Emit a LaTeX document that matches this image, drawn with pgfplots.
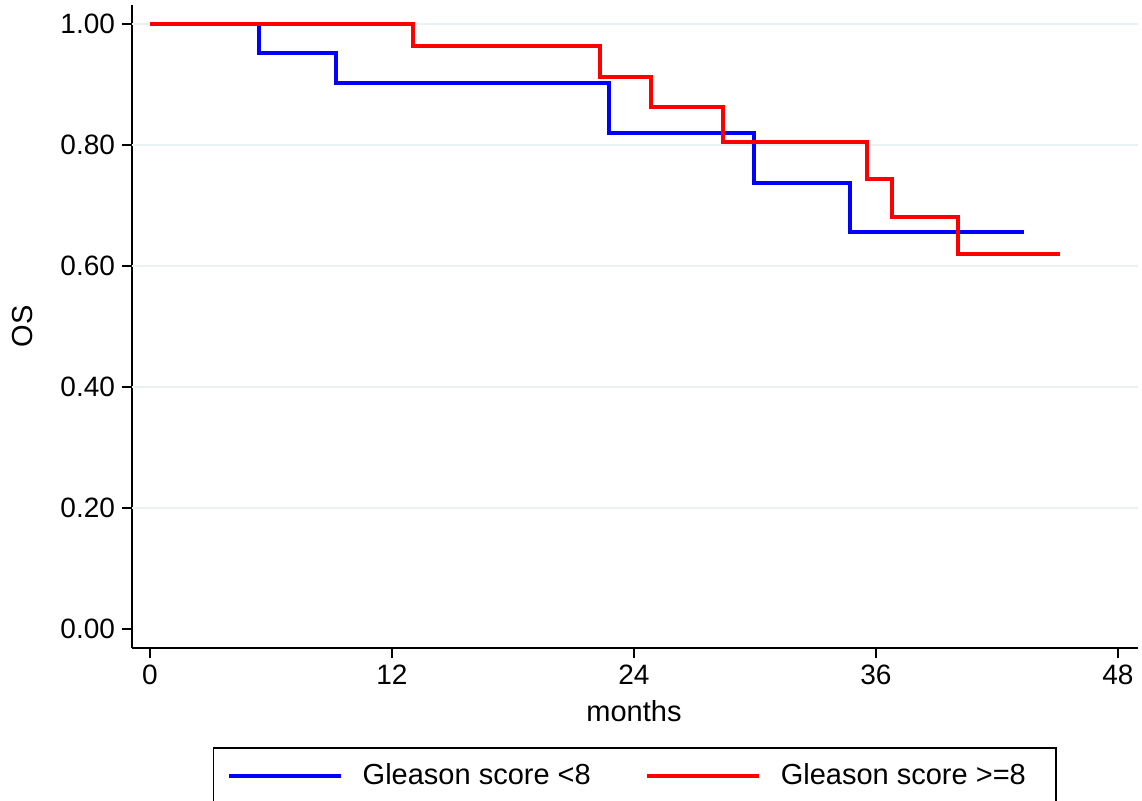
\documentclass[border=0pt]{standalone}
\usepackage{fontspec}
\setmainfont{Liberation Sans}
\usepackage{pgfplots}
\pgfplotsset{compat=1.18}
\definecolor{gridc}{RGB}{234,241,243}
\begin{document}
\begin{tikzpicture}
\useasboundingbox (0,0) rectangle (571pt,400pt);
\begin{axis}[
 at={(66pt,76pt)}, anchor=south west,
 scale only axis, width=503pt, height=321.5pt,
 xmin=-0.893, xmax=49, ymin=-0.0314, ymax=1.0314,
 axis x line*=bottom, axis y line*=left,
 axis line style={line width=1pt, -},
 xtick={0,12,24,36,48},
 ytick={0,0.2,0.4,0.6,0.8,1},
 extra y ticks={0.2,0.4,0.6,0.8,1},
 extra y tick labels={},
 extra y tick style={grid=major, major tick length=0pt, major grid style={gridc, line width=1pt}},
 tick align=outside, major tick length=5pt,
 tick style={line width=1pt, black},
 /pgf/number format/assume math mode=true,
 y tick label style={/pgf/number format/.cd, fixed, fixed zerofill, precision=2, /tikz/.cd},
 ticklabel style={font=\fontsize{14}{16}\selectfont},
 label style={font=\fontsize{14.5}{17}\selectfont},
 xlabel={months}, ylabel={OS},
 xlabel style={at={(axis description cs:0.499,-0.115)}, anchor=base},
 ylabel style={at={(axis description cs:-0.109,0.5)}, anchor=center},
 legend columns=2,
 legend style={at={(axis description cs:0.0805,-0.154)}, anchor=north west, draw=black, line width=0.75pt,
   font=\fontsize{14.5}{17}\selectfont, inner xsep=6.5pt, inner ysep=7pt, column sep=0pt,
   nodes={inner xsep=0pt, inner ysep=1pt, anchor=west}},
 legend image code/.code={\draw[#1, line width=2pt] (0pt,0pt) -- (56pt,0pt);},
 /tikz/every odd column/.append style={column sep=10pt},
 /tikz/every even column/.append style={column sep=27pt},
]
\addplot[blue, line width=2pt, const plot] coordinates {(0,1) (5.41,0.952) (9.23,0.902) (22.77,0.820) (29.96,0.737) (34.72,0.656) (43.35,0.656)};
\addlegendentry{Gleason score <8}
\addplot[red, line width=2pt, const plot] coordinates {(0,1) (13.05,0.964) (22.32,0.912) (24.85,0.863) (28.42,0.805) (35.57,0.744) (36.81,0.681) (40.08,0.620) (45.14,0.620)};
\addlegendentry{Gleason score >=8\kern8.5pt\null}
\end{axis}
\end{tikzpicture}
\end{document}
